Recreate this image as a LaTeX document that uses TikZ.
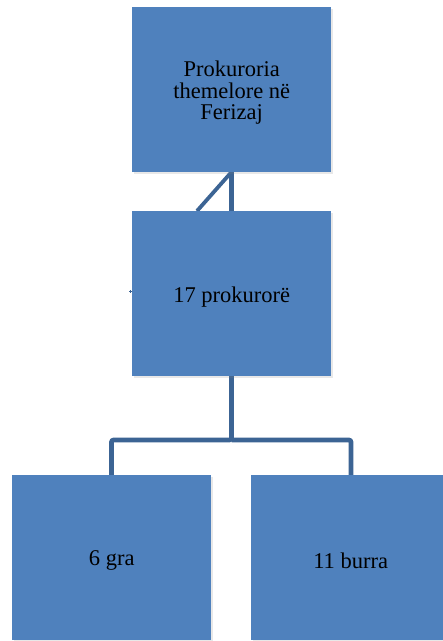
\documentclass[tikz,border=0pt]{standalone}
\usepackage{fontspec}
\setmainfont{Liberation Serif}
\usetikzlibrary{shadows,calc}
\definecolor{boxblue}{HTML}{4F81BD}
\definecolor{linkblue}{HTML}{3C6494}
\tikzset{
  orgbox/.style={rectangle, fill=boxblue, draw=none, minimum width=199pt, minimum height=165pt,
    anchor=north west, inner sep=0pt, align=center,
    drop shadow={opacity=0.18, shadow xshift=1.5pt, shadow yshift=-2pt}},
  boxtext/.style={text=black, align=center, inner sep=0pt,
    font=\fontsize{22.5}{21.7}\selectfont, yshift=-3pt},
  link/.style={draw=linkblue, line width=4.6pt, rounded corners=2pt}
}
\begin{document}
\begin{tikzpicture}[x=1pt,y=1pt]
\useasboundingbox (0,0) rectangle (443,-641);
% connectors first (behind boxes)
\coordinate (topS) at (231.5,-172);
\coordinate (midN) at (231.5,-211);
\coordinate (midNd) at (197,-211);
\coordinate (bar) at (231.5,-440);
\path[link] (topS) -- (midN);
\path[link, line width=3.8pt] (topS) -- (midNd);
\path[link] (231.5,-376) -- (bar) -| (111.5,-476);
\path[link] (bar) -| (351,-476);
\node[orgbox] (top) at (132,-7) {};
\node[orgbox] (mid) at (132,-211) {};
\node[orgbox] (bl) at (12,-475) {};
\node[orgbox] (br) at (251,-475) {};
\node[boxtext] (topT) at (top.center) {Prokuroria\\themelore në\\Ferizaj};
\node[boxtext] (midT) at (mid.center) {17 prokurorë};
\node[boxtext] (blT) at (bl.center) {6 gra};
\node[boxtext] (brT) at (br.center) {11 burra};
\coordinate (tick) at ($(mid.west)+(-1.5,2.5)$);
\draw[linkblue, line width=1.2pt] ($(tick)+(-1.5,0)$) -- ++(3,0);
\draw[linkblue, line width=1.2pt] ($(tick)+(0,-1.5)$) -- ++(0,3);
\end{tikzpicture}
\end{document}
